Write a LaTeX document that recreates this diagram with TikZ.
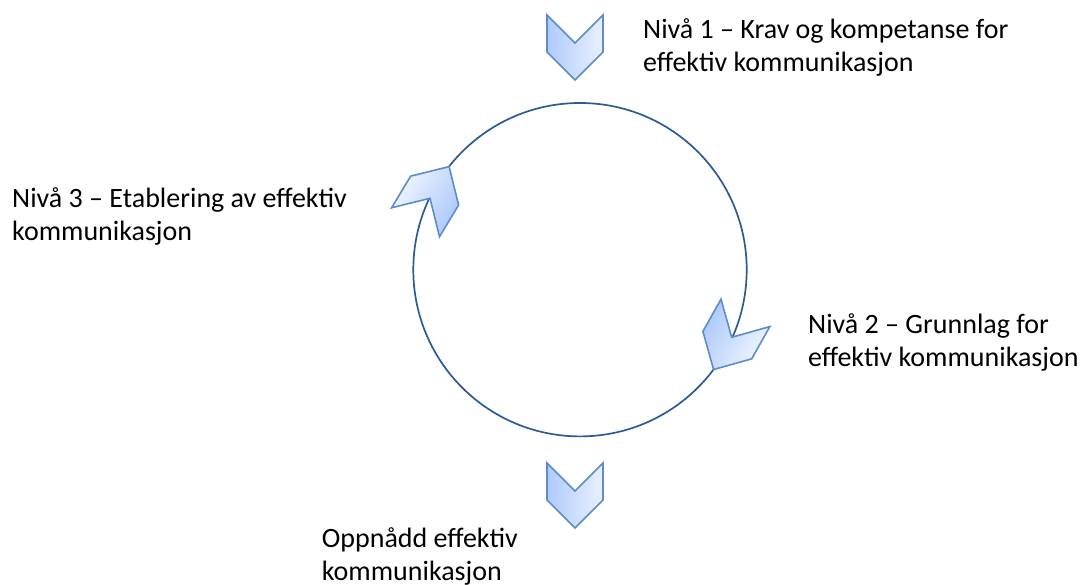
\documentclass[tikz,border=0pt]{standalone}
\usepackage{fontspec}
\setmainfont{Carlito}
\definecolor{chevL}{RGB}{176,203,250}
\definecolor{chevR}{RGB}{233,241,255}
\definecolor{chevline}{RGB}{92,141,200}
\definecolor{ringline}{RGB}{44,91,148}
\tikzset{
  chevstyle/.style={draw=chevline, line width=1.6pt, line join=miter, left color=chevL, right color=chevR},
  ring/.style={draw=ringline, line width=1.7pt},
  label/.style={font=\fontsize{28}{33.5}\selectfont, align=left, anchor=base west, inner sep=0pt, text=black},
  chevron/.pic={\path[chevstyle] (-28,28) -- (0,0) -- (28,28) -- (28,-9) -- (0,-37) -- (-28,-9) -- cycle;}
}
\begin{document}
\begin{tikzpicture}[x=1pt,y=1pt]
\useasboundingbox (0,0) rectangle (1087,585);
\coordinate (c) at (580,315.3);
\draw[ring] (c) circle[radius=166.7];
% chevrons
\begin{scope}[transform canvas={shift={(575,542)}}]
  \pic {chevron};
\end{scope}
\begin{scope}[transform canvas={shift={(575,94)}}]
  \pic {chevron};
\end{scope}
\begin{scope}[transform canvas={shift={(430,386.7)},rotate=148.9}]
  \pic {chevron};
\end{scope}
\begin{scope}[transform canvas={shift={(731.7,247.7)},rotate=-29.3}]
  \pic {chevron};
\end{scope}
% labels (anchored at the baseline of their last line)
\node[label] (n1) at (643,513.3) {Nivå 1 – Krav og kompetanse for\\effektiv kommunikasjon};
\node[label] (n3) at (12,344) {Nivå 3 – Etablering av effektiv\\kommunikasjon};
\node[label] (n2) at (808,218.3) {Nivå 2 – Grunnlag for\\effektiv kommunikasjon};
\node[label] (n0) at (321.7,4) {Oppnådd effektiv\\kommunikasjon};
\end{tikzpicture}
\end{document}
